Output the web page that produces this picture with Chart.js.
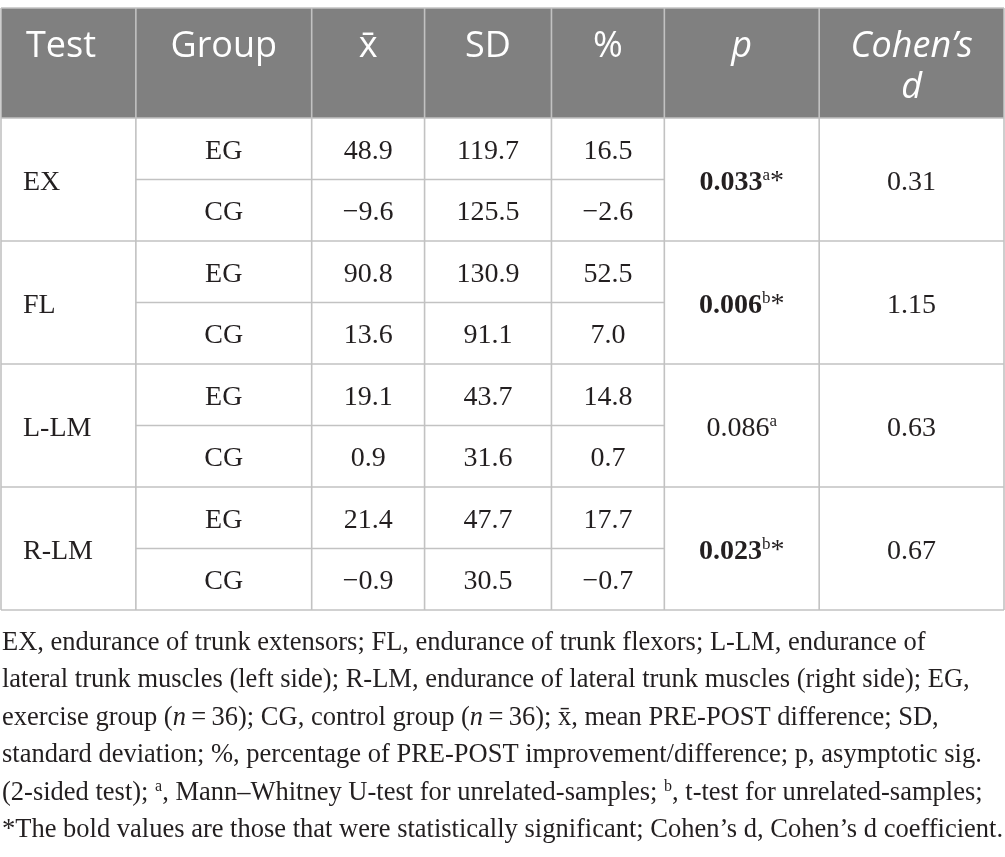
<!DOCTYPE html>
<html>
<head>
<meta charset="utf-8">
<script src="https://cdn.jsdelivr.net/npm/chart.js@4.4.1/dist/chart.umd.min.js"></script>
<style>
  html, body { margin: 0; padding: 0; background: #fff; }
  #wrap { width: 1005px; height: 857px; position: relative; }
</style>
</head>
<body>
<div id="wrap"><canvas id="statsTable"></canvas></div>
<script>
// table data
const columns = ["Test", "Group", "x\u0304", "SD", "%", "p", "Cohen\u2019s d"];
const tests = ["EX", "FL", "L-LM", "R-LM"];
const groups = ["EG", "CG"];
const means = [48.9, -9.6, 90.8, 13.6, 19.1, 0.9, 21.4, -0.9];
const sds = [119.7, 125.5, 130.9, 91.1, 43.7, 31.6, 47.7, 30.5];
const pcts = [16.5, -2.6, 52.5, 7.0, 14.8, 0.7, 17.7, -0.7];
const pValues = ["0.033", "0.006", "0.086", "0.023"];
const pTests = ["a", "b", "a", "b"];
const pSignificant = [true, true, false, true];
const cohensD = [0.31, 1.15, 0.63, 0.67];

// footnote, one array per printed line
const footnote = [
  [["EX, endurance of trunk extensors; FL, endurance of trunk flexors; L-LM, endurance of"]],
  [["lateral trunk muscles (left side); R-LM, endurance of lateral trunk muscles (right side); EG,"]],
  [["exercise group ("], ["n", "i"], ["\u2009=\u200936); CG, control group ("], ["n", "i"], ["\u2009=\u200936); x\u0304, mean PRE-POST difference; SD,"]],
  [["standard deviation; %, percentage of PRE-POST improvement/difference; p, asymptotic sig."]],
  [["(2-sided test); "], ["a", "s"], [", Mann\u2013Whitney U-test for unrelated-samples; "], ["b", "s"], [", t-test for unrelated-samples;"]],
  [["*The bold values are those that were statistically significant; Cohen\u2019s d, Cohen\u2019s d coefficient."]]
];

// layout
const colEdges = [0, 135, 311, 424, 551, 664, 819, 1004];
const headerRows = 1.79;
const SERIF = '"Liberation Serif", "Times New Roman", serif';
const SANS = '"Open Sans", "Noto Sans", sans-serif';
const INK = "#231f20";
const GRID = "#c2c2c2";

function fmt(v, d) {
  return v.toFixed(d).replace("-", "\u2212");
}

const tablePlugin = {
  id: "tablePlugin",
  afterDraw(chart) {
    const ctx = chart.ctx;
    const xs = chart.scales.x, ys = chart.scales.y;
    const X = v => xs.getPixelForValue(v);
    const Y = v => ys.getPixelForValue(v);
    const mid = c => (X(colEdges[c]) + X(colEdges[c + 1])) / 2;
    const left = X(colEdges[0]), right = X(colEdges[colEdges.length - 1]);
    const top = Y(-headerRows), bottom = Y(8);

    ctx.save();
    // header background
    ctx.fillStyle = "#808080";
    ctx.fillRect(left, top, right - left, Y(0) - top);

    // grid
    ctx.strokeStyle = GRID;
    ctx.lineWidth = 1.6;
    function hline(y, x1, x2) { ctx.beginPath(); ctx.moveTo(x1, y); ctx.lineTo(x2, y); ctx.stroke(); }
    hline(top, left, right);
    for (let r = 0; r <= 8; r++) {
      if (r % 2 === 0) hline(Y(r), left, right);
      else hline(Y(r), X(colEdges[1]), X(colEdges[5]));
    }
    for (let c = 0; c < colEdges.length; c++) {
      ctx.beginPath(); ctx.moveTo(X(colEdges[c]), top); ctx.lineTo(X(colEdges[c]), bottom); ctx.stroke();
    }

    // header text
    ctx.fillStyle = "#ffffff";
    ctx.textBaseline = "alphabetic";
    const hBase = top + 49;
    columns.forEach((name, c) => {
      const italic = c >= 5;
      ctx.font = (italic ? "italic " : "") + "36px " + SANS;
      if (c === 0) {
        ctx.textAlign = "left";
        ctx.fillText(name, X(colEdges[0]) + 25, hBase);
      } else if (c === 6) {
        ctx.textAlign = "center";
        const parts = name.split(" ");
        ctx.fillText(parts[0], mid(c), hBase);
        ctx.fillText(parts[1], mid(c), hBase + 41);
      } else {
        ctx.textAlign = "center";
        ctx.fillText(name, mid(c), hBase);
      }
    });

    // body text
    ctx.fillStyle = INK;
    ctx.font = "28px " + SERIF;
    const off = 10;
    for (let r = 0; r < 8; r++) {
      const yb = Y(r + 0.5) + off;
      ctx.textAlign = "center";
      ctx.fillText(groups[r % 2], mid(1), yb);
      ctx.fillText(fmt(means[r], 1), mid(2), yb);
      ctx.fillText(fmt(sds[r], 1), mid(3), yb);
      ctx.fillText(fmt(pcts[r], 1), mid(4), yb);
    }
    for (let t = 0; t < tests.length; t++) {
      const yb = Y(2 * t + 1) + off;
      ctx.font = "28px " + SERIF;
      ctx.textAlign = "left";
      ctx.fillText(tests[t], X(colEdges[0]) + 22, yb);
      ctx.textAlign = "center";
      ctx.fillText(fmt(cohensD[t], 2), mid(6), yb);

      // p value with superscript note
      const mainFont = (pSignificant[t] ? "bold " : "") + "28px " + SERIF;
      const supFont = "17px " + SERIF;
      const starFont = "28px " + SERIF;
      ctx.font = mainFont; const w1 = ctx.measureText(pValues[t]).width;
      ctx.font = supFont; const w2 = ctx.measureText(pTests[t]).width;
      ctx.font = starFont; const star = pSignificant[t] ? "*" : "";
      const w3 = star ? ctx.measureText(star).width : 0;
      let x = mid(5) - (w1 + w2 + w3) / 2;
      ctx.textAlign = "left";
      ctx.font = mainFont; ctx.fillText(pValues[t], x, yb); x += w1;
      ctx.font = supFont; ctx.fillText(pTests[t], x, yb - 10); x += w2;
      if (star) { ctx.font = starFont; ctx.fillText(star, x, yb - 1); }
    }

    // footnote
    const fSize = 26.5;
    footnote.forEach((runs, i) => {
      const yb = bottom + 40 + i * 37.4;
      let x = left + 1;
      runs.forEach(([txt, kind]) => {
        if (kind === "i") ctx.font = "italic " + fSize + "px " + SERIF;
        else if (kind === "s") ctx.font = Math.round(fSize * 0.6) + "px " + SERIF;
        else ctx.font = fSize + "px " + SERIF;
        ctx.fillText(txt, x, kind === "s" ? yb - 9 : yb);
        x += ctx.measureText(txt).width;
      });
    });
    ctx.restore();
  }
};

new Chart(document.getElementById("statsTable"), {
  type: "scatter",
  data: { datasets: [{ data: [], pointRadius: 0 }] },
  options: {
    responsive: true,
    maintainAspectRatio: false,
    animation: false,
    layout: { padding: { top: 8, bottom: 247, left: 1, right: 1 } },
    plugins: { legend: { display: false }, tooltip: { enabled: false } },
    scales: {
      x: { type: "linear", display: false, min: colEdges[0], max: colEdges[colEdges.length - 1] },
      y: { type: "linear", display: false, reverse: true, min: -headerRows, max: 8 }
    }
  },
  plugins: [tablePlugin]
});
</script>
</body>
</html>
